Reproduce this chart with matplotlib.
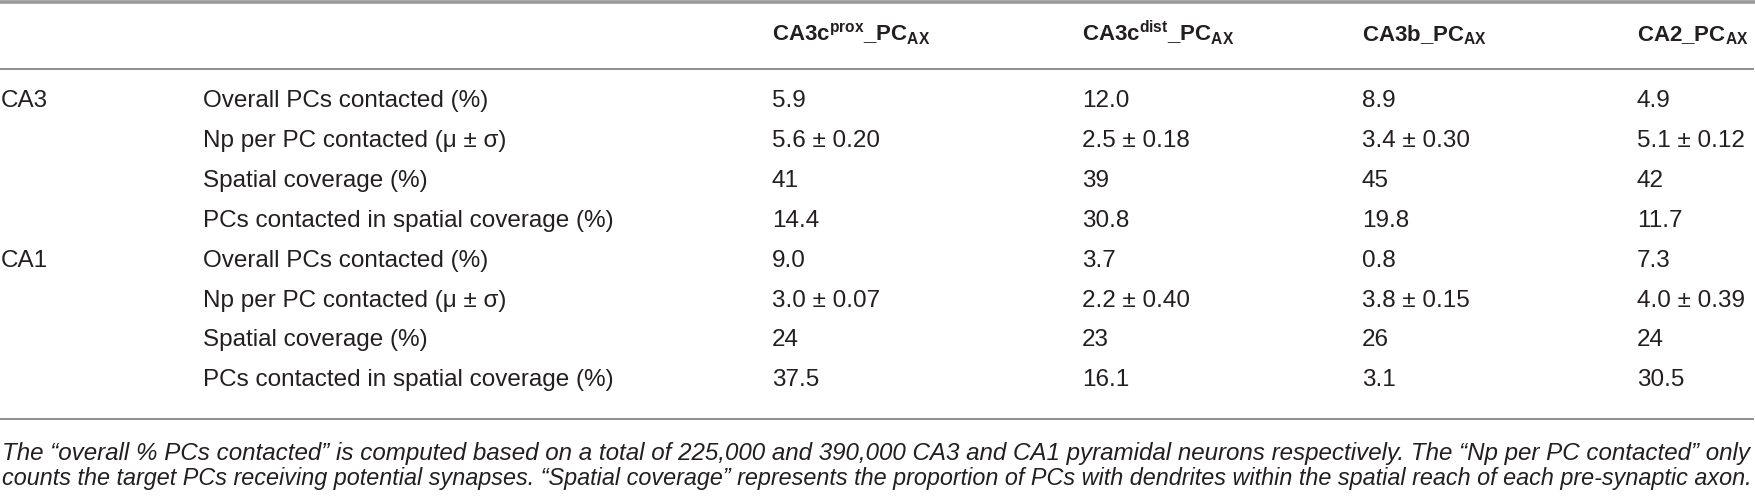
import matplotlib
matplotlib.use("Agg")
import matplotlib.pyplot as plt

plt.rcParams['font.family'] = ['Liberation Sans', 'DejaVu Sans']
plt.rcParams['mathtext.fontset'] = 'custom'
plt.rcParams['mathtext.rm'] = 'Liberation Sans'
plt.rcParams['mathtext.bf'] = 'Liberation Sans:bold'

# table content
col_heads = [r"CA3c$^{\mathbf{prox}}$_PC$_{\mathbf{AX}}$",
             r"CA3c$^{\mathbf{dist}}$_PC$_{\mathbf{AX}}$",
             r"CA3b_PC$_{\mathbf{AX}}$",
             r"CA2_PC$_{\mathbf{AX}}$"]
regions = ["CA3", "CA1"]
measures = ["Overall PCs contacted (%)",
            "Np per PC contacted (\u03bc \u00b1 \u03c3)",
            "Spatial coverage (%)",
            "PCs contacted in spatial coverage (%)"]

ca3_vals = [["5.9", "12.0", "8.9", "4.9"],
            ["5.6 \u00b1 0.20", "2.5 \u00b1 0.18", "3.4 \u00b1 0.30", "5.1 \u00b1 0.12"],
            ["41", "39", "45", "42"],
            ["14.4", "30.8", "19.8", "11.7"]]
ca1_vals = [["9.0", "3.7", "0.8", "7.3"],
            ["3.0 \u00b1 0.07", "2.2 \u00b1 0.40", "3.8 \u00b1 0.15", "4.0 \u00b1 0.39"],
            ["24", "23", "26", "24"],
            ["37.5", "16.1", "3.1", "30.5"]]

footnote = ["The \u201coverall % PCs contacted\u201d is computed based on a total of 225,000 and 390,000 "
            "CA3 and CA1 pyramidal neurons respectively. The \u201cNp per PC contacted\u201d only",
            "counts the target PCs receiving potential synapses. \u201cSpatial coverage\u201d represents the "
            "proportion of PCs with dendrites within the spatial reach of each pre-synaptic axon."]

# layout (pixels)
W, H = 1755, 498
txt_col = "#231f20"
line_col = "#8e8e8e"
x_region = 1
x_measure = 203
x_cols = [772, 1082, 1362, 1637]
y_head = 41
y_first = 101
row_step = 39.9
fs = 17.5

fig = plt.figure(figsize=(W / 100, H / 100), dpi=100)
ax = fig.add_axes([0, 0, 1, 1])
ax.set_xlim(0, W)
ax.set_ylim(H, 0)
ax.axis("off")

# rules
ax.plot([0, W], [1.5, 1.5], color="#9a9a9a", lw=2.6, solid_capstyle="butt")
ax.plot([0, W - 2], [69.3, 69.3], color=line_col, lw=1.4)
ax.plot([0, W - 2], [419.3, 419.3], color=line_col, lw=1.4)

for x, h in zip(x_cols, col_heads):
    ax.text(x, y_head, h, fontsize=16, fontweight="bold", color=txt_col,
            ha="left", va="baseline")

r = 0
for reg, block in zip(regions, [ca3_vals, ca1_vals]):
    for i, (m, vals) in enumerate(zip(measures, block)):
        y = y_first + r * row_step
        if i == 0:
            ax.text(x_region, y, reg, fontsize=fs, color=txt_col, ha="left", va="center")
        ax.text(x_measure, y, m, fontsize=fs, color=txt_col, ha="left", va="center")
        for x, v in zip(x_cols, vals):
            ax.text(x, y, v, fontsize=fs, color=txt_col, ha="left", va="center")
        r += 1

# footnote, each line fitted to the full width (justified look)
renderer = fig.canvas.get_renderer()
foot_y = [453, 478]
for y, line in zip(foot_y, footnote):
    t = ax.text(2, y, line, fontsize=13, style="italic", color=txt_col,
                ha="left", va="center")
    size = 13.0
    for _ in range(3):
        w0 = t.get_window_extent(renderer).width
        size *= (W - 8) / w0
        t.set_fontsize(size)

fig.savefig("out.png", dpi=100)
